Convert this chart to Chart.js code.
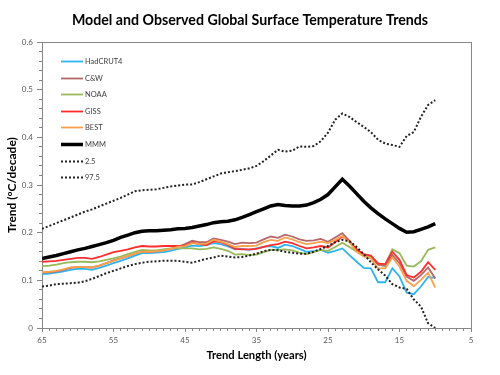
<!DOCTYPE html>
<html>
<head>
<meta charset="utf-8">
<script src="https://cdn.jsdelivr.net/npm/chart.js@4"></script>
<style>
  body { margin: 0; background: #fff; }
  #wrap { width: 500px; height: 375px; position: relative; }
</style>
</head>
<body>
<div id="wrap"><canvas id="myChart"></canvas></div>
<script>
// trend length in years, read left to right
const years = [65, 64, 63, 62, 61, 60, 59, 58, 57, 56, 55, 54, 53, 52, 51, 50, 49, 48, 47, 46,
  45, 44, 43, 42, 41, 40, 39, 38, 37, 36, 35, 34, 33, 32, 31, 30, 29, 28, 27, 26,
  25, 24, 23, 22, 21, 20, 19, 18, 17, 16, 15, 14, 13, 12, 11, 10];

const hadcrut4 = [0.113, 0.114, 0.116, 0.119, 0.122, 0.124, 0.124, 0.122, 0.126, 0.131, 0.136, 0.141, 0.146, 0.152, 0.157, 0.157, 0.158, 0.159, 0.162, 0.166,
  0.169, 0.173, 0.172, 0.174, 0.178, 0.176, 0.171, 0.165, 0.166, 0.164, 0.167, 0.170, 0.172, 0.168, 0.175, 0.172, 0.166, 0.160, 0.161, 0.164,
  0.158, 0.162, 0.167, 0.153, 0.139, 0.126, 0.125, 0.096, 0.096, 0.125, 0.108, 0.074, 0.071, 0.087, 0.107, 0.105];
const cw = [0.116, 0.117, 0.119, 0.122, 0.126, 0.128, 0.128, 0.127, 0.131, 0.136, 0.142, 0.146, 0.151, 0.156, 0.160, 0.160, 0.161, 0.163, 0.166, 0.171,
  0.176, 0.183, 0.180, 0.180, 0.188, 0.185, 0.181, 0.176, 0.179, 0.178, 0.179, 0.186, 0.192, 0.189, 0.196, 0.192, 0.186, 0.183, 0.184, 0.187,
  0.181, 0.190, 0.199, 0.183, 0.163, 0.153, 0.150, 0.133, 0.130, 0.153, 0.136, 0.108, 0.099, 0.111, 0.127, 0.104];
const noaa = [0.130, 0.131, 0.133, 0.136, 0.138, 0.139, 0.139, 0.138, 0.140, 0.143, 0.146, 0.150, 0.155, 0.160, 0.164, 0.163, 0.163, 0.165, 0.167, 0.167,
  0.167, 0.167, 0.165, 0.166, 0.169, 0.166, 0.162, 0.154, 0.155, 0.153, 0.154, 0.159, 0.164, 0.164, 0.165, 0.163, 0.158, 0.155, 0.159, 0.164,
  0.162, 0.170, 0.179, 0.170, 0.160, 0.153, 0.150, 0.136, 0.133, 0.165, 0.157, 0.131, 0.129, 0.140, 0.164, 0.169];
const giss = [0.139, 0.140, 0.141, 0.143, 0.145, 0.147, 0.147, 0.145, 0.149, 0.154, 0.159, 0.162, 0.165, 0.169, 0.172, 0.171, 0.171, 0.172, 0.172, 0.172,
  0.173, 0.179, 0.176, 0.174, 0.182, 0.180, 0.174, 0.166, 0.165, 0.165, 0.166, 0.170, 0.174, 0.176, 0.181, 0.178, 0.172, 0.167, 0.169, 0.172,
  0.169, 0.180, 0.192, 0.182, 0.165, 0.155, 0.152, 0.135, 0.134, 0.160, 0.143, 0.111, 0.106, 0.118, 0.138, 0.122];
const best = [0.117, 0.118, 0.120, 0.123, 0.127, 0.128, 0.128, 0.127, 0.131, 0.136, 0.141, 0.146, 0.151, 0.156, 0.160, 0.160, 0.161, 0.163, 0.166, 0.170,
  0.172, 0.178, 0.176, 0.177, 0.185, 0.181, 0.176, 0.170, 0.172, 0.172, 0.173, 0.180, 0.185, 0.183, 0.190, 0.186, 0.180, 0.176, 0.178, 0.181,
  0.178, 0.185, 0.193, 0.180, 0.160, 0.150, 0.146, 0.125, 0.125, 0.148, 0.129, 0.099, 0.088, 0.101, 0.116, 0.085];
const mmm = [0.146, 0.149, 0.152, 0.156, 0.160, 0.164, 0.167, 0.171, 0.175, 0.179, 0.184, 0.190, 0.195, 0.200, 0.203, 0.204, 0.204, 0.205, 0.206, 0.208,
  0.209, 0.211, 0.214, 0.217, 0.221, 0.223, 0.224, 0.227, 0.232, 0.238, 0.244, 0.250, 0.256, 0.259, 0.257, 0.256, 0.256, 0.258, 0.263, 0.270,
  0.280, 0.296, 0.312, 0.298, 0.282, 0.266, 0.252, 0.240, 0.229, 0.219, 0.209, 0.201, 0.202, 0.207, 0.212, 0.219];
const p2_5 = [0.087, 0.089, 0.092, 0.093, 0.094, 0.095, 0.098, 0.103, 0.109, 0.115, 0.120, 0.125, 0.130, 0.134, 0.137, 0.139, 0.140, 0.141, 0.141, 0.141,
  0.139, 0.137, 0.141, 0.145, 0.148, 0.152, 0.150, 0.148, 0.149, 0.152, 0.156, 0.161, 0.164, 0.163, 0.160, 0.158, 0.156, 0.156, 0.160, 0.166,
  0.172, 0.180, 0.185, 0.182, 0.170, 0.155, 0.138, 0.123, 0.110, 0.092, 0.085, 0.082, 0.060, 0.045, 0.010, 0.000];
const p97_5 = [0.208, 0.214, 0.220, 0.226, 0.232, 0.238, 0.244, 0.249, 0.255, 0.261, 0.267, 0.273, 0.280, 0.287, 0.289, 0.290, 0.291, 0.294, 0.297, 0.299,
  0.301, 0.301, 0.306, 0.312, 0.318, 0.324, 0.327, 0.329, 0.332, 0.335, 0.340, 0.350, 0.362, 0.374, 0.370, 0.372, 0.381, 0.380, 0.382, 0.392,
  0.410, 0.437, 0.450, 0.443, 0.432, 0.422, 0.411, 0.395, 0.387, 0.384, 0.380, 0.403, 0.411, 0.443, 0.468, 0.478];

const font = "Lato, 'Open Sans', sans-serif";
const axisGray = "#868686";

const toPoints = function (values) {
  return values.map((v, i) => ({ x: years[i], y: v }));
};

const makeSet = function (label, values, color, width, dash, order) {
  return {
    label: label,
    data: toPoints(values),
    borderColor: color,
    backgroundColor: color,
    borderWidth: width,
    borderDash: dash,
    pointRadius: 0,
    tension: 0,
    fill: false,
    order: order,
  };
};

const datasets = [
  makeSet("HadCRUT4", hadcrut4, "#2fb4ee", 1.8, [], 8),
  makeSet("C&W", cw, "#b5676a", 1.8, [], 7),
  makeSet("NOAA", noaa, "#98b95a", 1.8, [], 6),
  makeSet("GISS", giss, "#ff2d2d", 1.8, [], 5),
  makeSet("BEST", best, "#f9a04e", 1.8, [], 4),
  makeSet("MMM", mmm, "#000000", 3.5, [], 3),
  makeSet("2.5", p2_5, "#222222", 2, [2, 2], 2),
  makeSet("97.5", p97_5, "#222222", 2, [2, 2], 1),
];

// legend sits inside the plot, top left, like the original
const insideLegend = {
  id: "insideLegend",
  afterDraw(chart) {
    const { ctx, chartArea } = chart;
    const x0 = chartArea.left + 19;
    const y0 = chartArea.top + 19;
    ctx.save();
    ctx.font = "7.5px " + font;
    ctx.textBaseline = "middle";
    ctx.fillStyle = "#404040";
    chart.data.datasets.forEach((ds, i) => {
      const y = Math.round(y0 + i * 16.6) + 0.5;
      ctx.beginPath();
      ctx.strokeStyle = ds.borderColor;
      ctx.lineWidth = ds.borderWidth;
      ctx.setLineDash(ds.borderDash);
      ctx.moveTo(x0, y);
      ctx.lineTo(x0 + 22, y);
      ctx.stroke();
      ctx.fillText(ds.label, x0 + 24, y);
    });
    ctx.restore();
  },
};

// top and right edge of the plot box
const plotFrame = {
  id: "plotFrame",
  beforeDatasetsDraw(chart) {
    const { ctx, chartArea } = chart;
    ctx.save();
    ctx.strokeStyle = axisGray;
    ctx.lineWidth = 1;
    ctx.strokeRect(chartArea.left + 0.5, chartArea.top + 0.5,
      chartArea.right - chartArea.left, chartArea.bottom - chartArea.top);
    ctx.restore();
  },
};

const config = {
  type: "line",
  data: { datasets: datasets },
  plugins: [plotFrame, insideLegend],
  options: {
    responsive: true,
    maintainAspectRatio: false,
    animation: false,
    layout: { padding: 0 },
    plugins: {
      legend: { display: false },
      tooltip: { enabled: false },
      title: {
        display: true,
        text: "Model and Observed Global Surface Temperature Trends",
        color: "#000",
        font: { family: font, size: 14.2, weight: "bold" },
        padding: { top: 12, bottom: 13 },
      },
    },
    scales: {
      x: {
        type: "linear",
        reverse: true,
        min: 5,
        max: 65,
        weight: 1,
        afterFit: (s) => { s.height = 47; },
        ticks: { stepSize: 10, color: "#595959", font: { family: font, size: 8 }, padding: 4, maxRotation: 0 },
        grid: { drawOnChartArea: false, tickLength: 4, color: axisGray },
        border: { color: axisGray },
        title: {
          display: true,
          text: "Trend Length (years)",
          color: "#000",
          font: { family: font, size: 11.2, weight: "bold" },
          padding: { top: 0, bottom: 13 },
        },
      },
      xMinor: {
        type: "linear",
        position: "bottom",
        reverse: true,
        min: 5,
        max: 65,
        weight: 0,
        afterFit: (s) => { s.height = 0; },
        ticks: { stepSize: 1, display: false },
        grid: { drawOnChartArea: false, tickLength: 3, color: axisGray },
        border: { display: false },
      },
      y: {
        min: 0,
        max: 0.6,
        weight: 1,
        afterFit: (s) => { s.width = 42; },
        ticks: { stepSize: 0.1, color: "#595959", font: { family: font, size: 8 }, padding: 4 },
        grid: { drawOnChartArea: false, tickLength: 5, color: axisGray },
        border: { color: axisGray },
        title: {
          display: true,
          text: "Trend (°C/decade)",
          color: "#000",
          font: { family: font, size: 12, weight: "bold" },
          padding: { top: 5, bottom: 0 },
        },
      },
      yMinor: {
        position: "left",
        min: 0,
        max: 0.6,
        weight: 0,
        afterFit: (s) => { s.width = 0; },
        ticks: { stepSize: 0.02, display: false },
        grid: { drawOnChartArea: false, tickLength: 3, color: axisGray },
        border: { display: false },
      },
      // empty right-hand strip so the title centres on the whole page
      yRight: {
        position: "right",
        min: 0,
        max: 0.6,
        afterFit: (s) => { s.width = 29; },
        ticks: { display: false },
        grid: { display: false },
        border: { display: false },
      },
    },
  },
};

new Chart(document.getElementById("myChart"), config);
</script>
</body>
</html>
